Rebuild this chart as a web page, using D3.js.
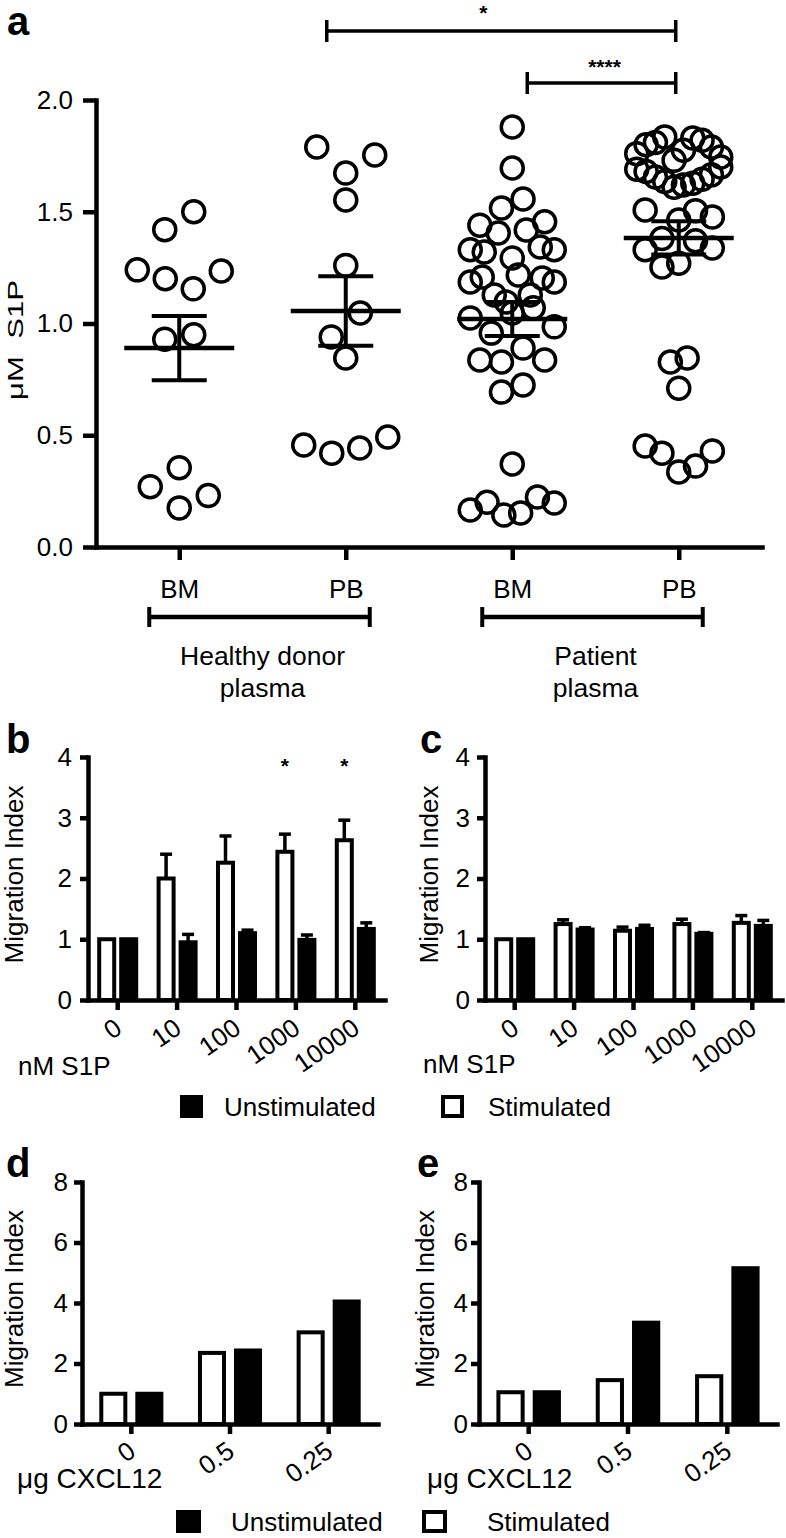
<!DOCTYPE html>
<html><head><meta charset="utf-8">
<script src="https://cdn.jsdelivr.net/npm/d3@7"></script>
<style>
body{margin:0;background:#fff}
svg{display:block;background:#fff}
</style></head><body>
<svg id="chart" width="786" height="1538"></svg>
<script>
// ---------------- DATA ----------------
// Panel a: S1P concentration (µM), column scatter
const groupsA = ["HD BM", "HD PB", "Pt BM", "Pt PB"];
const groupLabelsA = ["BM", "PB", "BM", "PB"];
const hdBM = [1.42, 1.50, 1.24, 1.20, 1.155, 1.235, 0.93, 0.95, 0.27, 0.355, 0.23, 0.175];
const hdPB = [1.79, 1.673, 1.754, 1.553, 1.26, 0.94, 1.047, 0.846, 0.456, 0.42, 0.443, 0.492];
const ptBM = [1.879, 1.696, 1.44, 1.517, 1.557, 1.455, 1.33, 1.32, 1.405, 1.293, 1.418, 1.342, 1.33,
              1.186, 1.208, 1.128, 1.096, 1.217, 1.128, 1.204, 1.186, 1.025, 0.957, 1.047, 1.07, 0.985,
              0.837, 0.828, 0.89, 0.837, 0.693, 0.725, 0.371, 0.166, 0.2, 0.143, 0.152, 0.224, 0.197];
const ptPB = [1.76, 1.80, 1.81, 1.835, 1.73, 1.775, 1.83, 1.82, 1.79, 1.745,
              1.69, 1.68, 1.655, 1.635, 1.61, 1.62, 1.628, 1.645, 1.665, 1.70,
              1.508, 1.38, 1.463, 1.505, 1.477,
              1.33, 1.253, 1.27, 1.37, 1.338,
              0.828, 0.846, 0.71,
              0.452, 0.42, 0.336, 0.362, 0.43];
const meansA = [0.89, 1.056, 1.02, 1.383];
const semsA = [0.144, 0.155, 0.076, 0.074];
const ticksA = [0, 0.5, 1.0, 1.5, 2.0];
const sigA = [{from: 1, to: 3, label: "*"}, {from: 2, to: 3, label: "****"}];
const plasmaGroups = [{lines: ["Healthy donor", "plasma"], from: 0, to: 1},
                      {lines: ["Patient", "plasma"], from: 2, to: 3}];

// Panels b, c: migration vs S1P
const s1pDoses = ["0", "10", "100", "1000", "10000"];
const bStim = [1.0, 2.00, 2.26, 2.44, 2.63];
const bStimSem = [0, 0.40, 0.44, 0.29, 0.33];
const bUnstim = [1.0, 0.95, 1.10, 0.99, 1.17];
const bUnstimSem = [0, 0.13, 0.05, 0.08, 0.10];
const bSig = ["", "", "", "*", "*"];
const cStim = [1.0, 1.25, 1.14, 1.25, 1.27];
const cStimSem = [0, 0.07, 0.06, 0.08, 0.12];
const cUnstim = [1.0, 1.16, 1.17, 1.09, 1.22];
const cUnstimSem = [0, 0.03, 0.06, 0.02, 0.09];
const ticksBC = [0, 1, 2, 3, 4];

// Panels d, e: migration vs CXCL12
const cxclDoses = ["0", "0.5", "0.25"];
const dStim = [1.0, 2.35, 3.03];
const dUnstim = [1.0, 2.43, 4.05];
const eStim = [1.05, 1.45, 1.58];
const eUnstim = [1.05, 3.35, 5.15];
const ticksDE = [0, 2, 4, 6, 8];

const seriesNames = ["Stimulated", "Unstimulated"];

// ---------------- DRAWING ----------------
const FONT = '"Liberation Sans", Arial, Helvetica, sans-serif';
const INK = "#000";
const svg = d3.select("#chart");

function styleAxis(sel, fs, sw) {
  sel.attr("font-family", FONT);
  sel.select(".domain").attr("stroke", INK).attr("stroke-width", sw).attr("stroke-linecap", "square");
  sel.selectAll(".tick line").attr("stroke", INK).attr("stroke-width", sw);
  sel.selectAll(".tick text").attr("fill", INK).attr("font-size", fs).attr("font-family", FONT);
}
function line(g, x1, y1, x2, y2, sw) {
  return g.append("line").attr("x1", x1).attr("y1", y1).attr("x2", x2).attr("y2", y2)
    .attr("stroke", INK).attr("stroke-width", sw);
}
function text(g, x, y, s, fs, opts = {}) {
  const t = g.append("text").attr("x", x).attr("y", y).text(s)
    .attr("font-family", FONT).attr("font-size", fs).attr("fill", INK);
  if (opts.anchor) t.attr("text-anchor", opts.anchor);
  if (opts.bold) t.attr("font-weight", "bold");
  if (opts.transform) t.attr("transform", opts.transform);
  return t;
}

// Row-based column-scatter layout (points binned by height, spread horizontally)
function swarm(values, cx, y) {
  const binH = 30, gap = 29, maxW = 84;
  const idx = values.map((v, i) => i).sort((a, b) => values[b] - values[a] || a - b);
  const bins = [];
  let cur = null;
  idx.forEach(i => {
    const py = y(values[i]);
    if (!cur || py - cur.y0 > binH) { cur = {y0: py, members: []}; bins.push(cur); }
    cur.members.push(i);
  });
  const maxN = d3.max(bins, b => b.members.length);
  const sg = maxN > 1 ? Math.min(gap, maxW / (maxN - 1)) : gap;
  const out = [];
  bins.forEach(b => {
    const m = b.members.slice().sort((a, c) => a - c);
    const n = m.length;
    const sp = n > 1 ? Math.min(gap, maxW / (n - 1), 1.8 * sg) : 0;
    m.forEach((i, k) => out.push({v: values[i], x: cx + (k - (n - 1) / 2) * sp, y: y(values[i])}));
  });
  return out;
}

// ---------- Panel a ----------
(function () {
  const g = svg.append("g");
  const x = d3.scalePoint().domain(groupsA).range([96, 762]).padding(0.5);
  const y = d3.scaleLinear().domain([0, 2]).range([547, 100]);

  // points
  [hdBM, hdPB, ptBM, ptPB].forEach((vals, gi) => {
    const pts = swarm(vals, x(groupsA[gi]), y);
    g.append("g").selectAll("circle").data(pts).join("circle")
      .attr("cx", d => d.x).attr("cy", d => d.y).attr("r", 11)
      .attr("fill", "none").attr("stroke", INK).attr("stroke-width", 3.5);
  });

  // mean ± SEM
  groupsA.forEach((gr, i) => {
    const cx = x(gr), m = meansA[i], s = semsA[i];
    line(g, cx - 55, y(m), cx + 55, y(m), 4.5);
    line(g, cx, y(m + s), cx, y(m - s), 4);
    line(g, cx - 27.5, y(m + s), cx + 27.5, y(m + s), 4);
    line(g, cx - 27.5, y(m - s), cx + 27.5, y(m - s), 4);
  });

  // axes
  g.append("g").attr("transform", "translate(96,0)")
    .call(d3.axisLeft(y).tickValues(ticksA).tickFormat(d3.format(".1f"))
      .tickSize(13).tickSizeOuter(0).tickPadding(10))
    .call(styleAxis, 26, 4.5);
  g.append("g").attr("transform", "translate(0,547)")
    .call(d3.axisBottom(x).tickSize(13).tickSizeOuter(0).tickPadding(20)
      .tickFormat((d, i) => groupLabelsA[i]))
    .call(styleAxis, 26, 4.5);

  // y label (stretched along its length like the original)
  text(g, 0, 0, "\u03bcM\u00a0\u00a0S1P", 22, {anchor: "middle", transform: "translate(23,340) rotate(-90)"})
    .attr("textLength", 120).attr("lengthAdjust", "spacingAndGlyphs");

  // significance brackets
  const sigY = [31, 83];
  const sigStart = [-19, 15], sigEnd = [-3, -3], sigLabelShift = [-18, 3], sigLabelY = [20, 74];
  sigA.forEach((s, k) => {
    const x1 = x(groupsA[s.from]) + sigStart[k], x2 = x(groupsA[s.to]) + sigEnd[k], yy = sigY[k];
    line(g, x1, yy, x2, yy, 3.5);
    line(g, x1, yy - 11, x1, yy + 11, 3.5);
    line(g, x2, yy - 11, x2, yy + 11, 3.5);
    text(g, (x1 + x2) / 2 + sigLabelShift[k], sigLabelY[k], s.label, 21, {anchor: "middle", bold: true});
  });

  // plasma group brackets
  plasmaGroups.forEach(pg => {
    const xa = x(groupsA[pg.from]), xb = x(groupsA[pg.to]);
    const x1 = xa - 30, x2 = xb + 24, yy = 617;
    line(g, x1, yy, x2, yy, 4.5);
    line(g, x1, yy - 10, x1, yy + 10, 4);
    line(g, x2, yy - 10, x2, yy + 10, 4);
    pg.lines.forEach((ln, li) => text(g, (xa + xb) / 2, 665 + li * 32, ln, 26.5, {anchor: "middle"}));
  });

  text(g, 7, 35, "a", 40, {bold: true});
})();

// ---------- Bar panels ----------
function barPanel(p) {
  const g = svg.append("g");
  const x = d3.scaleBand().domain(p.cats).range([p.x0, p.x1]);
  const xs = d3.scaleBand().domain(seriesNames).range([0, x.bandwidth()])
    .paddingInner(p.pi).paddingOuter(p.po);
  const y = d3.scaleLinear().domain([0, p.max]).range([p.y0, p.y1]);
  const sw = 4;
  const rows = [];
  p.cats.forEach((c, i) => {
    rows.push({c, s: "Stimulated", v: p.stim[i], e: p.stimSem ? p.stimSem[i] : 0});
    rows.push({c, s: "Unstimulated", v: p.unstim[i], e: p.unstimSem ? p.unstimSem[i] : 0});
  });
  const bw = xs.bandwidth();
  g.append("g").selectAll("rect").data(rows).join("rect")
    .attr("x", d => x(d.c) + xs(d.s) + sw / 2)
    .attr("width", bw - sw)
    .attr("y", d => y(d.v))
    .attr("height", d => y(0) - y(d.v))
    .attr("fill", d => d.s === "Stimulated" ? "#fff" : INK)
    .attr("stroke", INK).attr("stroke-width", sw);
  // error bars (upper only)
  rows.filter(d => d.e > 0).forEach(d => {
    const cx = x(d.c) + xs(d.s) + bw / 2;
    line(g, cx, y(d.v), cx, y(d.v + d.e), 3.5);
    line(g, cx - 6, y(d.v + d.e), cx + 6, y(d.v + d.e), 3.5);
  });
  // significance marks
  if (p.sig) p.sig.forEach((s, i) => {
    if (!s) return;
    const cx = x(p.cats[i]) + xs("Stimulated") + bw / 2;
    text(g, cx, y(p.max) + 16, s, 21, {anchor: "middle", bold: true});
  });
  // axes
  g.append("g").attr("transform", `translate(${p.x0},0)`)
    .call(d3.axisLeft(y).tickValues(p.ticks).tickFormat(d3.format("d"))
      .tickSize(8).tickSizeOuter(0).tickPadding(p.tp))
    .call(styleAxis, 26, 4.5);
  const gx = g.append("g").attr("transform", `translate(0,${p.y0})`)
    .call(d3.axisBottom(x).tickSize(10).tickSizeOuter(0))
    .call(styleAxis, 26, 4.5);
  gx.selectAll(".tick text").attr("text-anchor", "end").attr("x", 6).attr("y", p.labY)
    .attr("dy", "0").attr("transform", `rotate(-35,6,${p.labY})`);
  // labels
  text(g, 0, 0, "Migration Index", 26, {anchor: "middle",
    transform: `translate(${p.ylx},${(p.y0 + p.y1) / 2 - 4}) rotate(-90)`});
  text(g, p.xtx, p.xty, p.xtitle, p.xfs);
  text(g, p.lx, p.ly, p.letter, 40, {bold: true});
}

barPanel({cats: s1pDoses, stim: bStim, unstim: bUnstim, stimSem: bStimSem, unstimSem: bUnstimSem, sig: bSig,
  x0: 88, x1: 385, y0: 1000, y1: 757, max: 4, ticks: ticksBC, pi: 0.136, po: 0.418, tp: 8, labY: 32,
  ylx: 23, xtitle: "nM S1P", xtx: 18, xty: 1075, xfs: 26, letter: "b", lx: 6, ly: 753});
barPanel({cats: s1pDoses, stim: cStim, unstim: cUnstim, stimSem: cStimSem, unstimSem: cUnstimSem,
  x0: 485, x1: 782, y0: 1000, y1: 757, max: 4, ticks: ticksBC, pi: 0.136, po: 0.418, tp: 7, labY: 32,
  ylx: 438, xtitle: "nM S1P", xtx: 423, xty: 1073, xfs: 26, letter: "c", lx: 420, ly: 753});
barPanel({cats: cxclDoses, stim: dStim, unstim: dUnstim,
  x0: 82, x1: 378, y0: 1424, y1: 1182, max: 8, ticks: ticksDE, pi: 0.222, po: 0.48, tp: 6, labY: 31,
  ylx: 23, xtitle: "\u03bcg CXCL12", xtx: 17, xty: 1488, xfs: 28, letter: "d", lx: 6, ly: 1177});
barPanel({cats: cxclDoses, stim: eStim, unstim: eUnstim,
  x0: 479, x1: 777, y0: 1424, y1: 1182, max: 8, ticks: ticksDE, pi: 0.222, po: 0.48, tp: 3, labY: 31,
  ylx: 434, xtitle: "\u03bcg CXCL12", xtx: 427, xty: 1488, xfs: 28, letter: "e", lx: 417, ly: 1177});

// ---------- Legends ----------
function legend(spec) {
  const g = svg.append("g");
  g.append("rect").attr("x", spec.bx).attr("y", spec.by).attr("width", spec.bw).attr("height", spec.bh).attr("fill", INK);
  text(g, spec.btx, spec.ty, seriesNames[1], 26);
  g.append("rect").attr("x", spec.wx + 2).attr("y", spec.by + 2).attr("width", spec.bw - 4).attr("height", spec.bh - 4)
    .attr("fill", "#fff").attr("stroke", INK).attr("stroke-width", 4);
  text(g, spec.wtx, spec.ty, seriesNames[0], 26);
}
legend({bx: 180, by: 1095, bw: 23, bh: 23, btx: 224, wx: 441, wtx: 488, ty: 1116});
legend({bx: 176, by: 1510, bw: 25, bh: 23, btx: 231, wx: 422, wtx: 487, ty: 1531});
</script>
</body></html>
